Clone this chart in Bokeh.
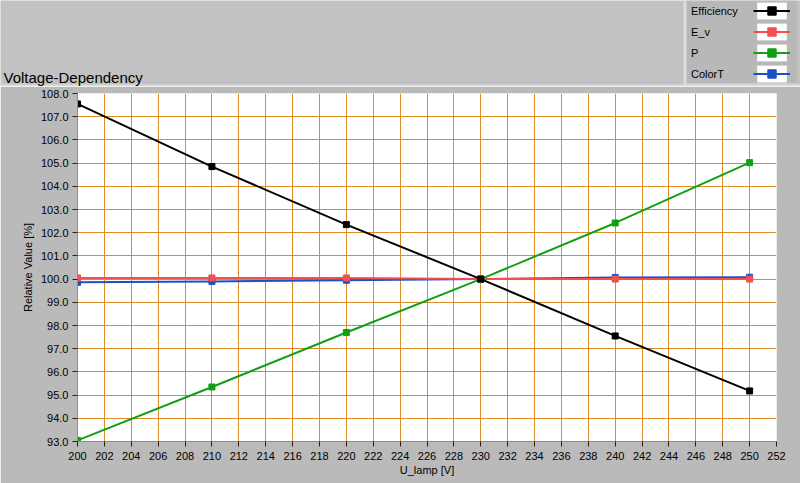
from bokeh.plotting import figure
from bokeh.layouts import column
from bokeh.models import (Range1d, FixedTicker, NumeralTickFormatter, Legend, LegendItem,
                          Label, BoxAnnotation)
from bokeh.embed import file_html
from bokeh.resources import INLINE

# ---- data ----
u_lamp = [200, 210, 220, 230, 240, 250]
efficiency = [107.55, 104.85, 102.35, 100.0, 97.55, 95.18]
e_v = [100.05, 100.05, 100.05, 100.0, 100.0, 100.0]
power = [93.05, 95.35, 97.70, 100.0, 102.42, 105.02]
color_t = [99.86, 99.90, 99.95, 100.0, 100.07, 100.08]

series_names = ["Efficiency", "E_v", "P", "ColorT"]
series_values = [efficiency, e_v, power, color_t]
series_colors = ["#000000", "#f25050", "#12a012", "#1c50c8"]
draw_order = [3, 1, 2, 0]

x_ticks = list(range(200, 253, 2))
y_ticks = list(range(93, 109))
title_text = "Voltage-Dependency"
x_label = "U_lamp [V]"
y_label = "Relative Value [%]"

FONT = "Liberation Sans"
PANEL = "#bababa"
TOP = "#c2c2c2"
LIGHT = "#dcdcdc"
GRID = "#dc8c28"

W, H = 800, 483
TOP_H = 86            # height of the header strip (title + legend)
FRAME_TOP, FRAME_BOTTOM = 93, 441
FRAME_LEFT, FRAME_RIGHT = 77, 776
LEG_LEFT, LEG_RIGHT, LEG_H = 686, 797, 84

# ---------------- header strip: title + legend ----------------
head = figure(width=W, height=TOP_H, output_backend="svg", toolbar_location=None,
              x_range=Range1d(0, W), y_range=Range1d(TOP_H, 0),
              x_axis_type=None, y_axis_type=None,
              min_border=0, min_border_left=0, min_border_right=0,
              min_border_top=0, min_border_bottom=0)
head.frame_align = False
head.background_fill_color = TOP
head.border_fill_color = TOP
head.outline_line_color = None
head.grid.visible = False

def header_box(x0, x1, y0, y1, color):
    head.add_layout(BoxAnnotation(left=x0, right=x1, top=y0, bottom=y1,
                                  fill_color=color, fill_alpha=1.0, line_color=None,
                                  level="underlay"))

header_box(0, W, TOP_H - 2, TOP_H, LIGHT)                 # bevel under the header
header_box(LEG_LEFT - 3, LEG_RIGHT, 0, LEG_H, LIGHT)       # legend panel bevel
header_box(LEG_LEFT, LEG_RIGHT, 0, LEG_H - 1, "#b8b8b8")   # legend panel

head.add_layout(Label(x=3, y=77, text=title_text, text_font=FONT, text_font_size="15px",
                      text_color="#000000", text_baseline="alphabetic"))

# legend proxies (same data, lying outside the header's visible ranges)
icon_bg = head.rect(x=u_lamp[:1], y=efficiency[:1], width=0, height=0,
                    fill_color="white", line_color=None)
proxy_lines = [head.line(u_lamp, series_values[i], line_color=series_colors[i], line_width=2)
               for i in range(4)]
proxy_marks = [head.scatter(u_lamp, series_values[i], marker="square", size=6,
                            fill_color=series_colors[i], line_color=series_colors[i])
               for i in range(4)]

common = dict(orientation="vertical", label_text_font=FONT, label_text_font_size="11px",
              label_text_color="#000000", label_height=21, glyph_height=21,
              spacing=0, padding=0, margin=0,
              background_fill_alpha=0.0, border_line_color=None)

# names on the left of the legend panel
name_legend = Legend(items=[LegendItem(label=series_names[i],
                                       renderers=[proxy_lines[i], proxy_marks[i]])
                            for i in range(4)],
                     location=(LEG_LEFT, TOP_H - LEG_H), glyph_width=0, label_standoff=5,
                     **common)
# icons on the right of the legend panel
icon_legend = Legend(items=[LegendItem(label=" ",
                                       renderers=[icon_bg, proxy_lines[i], proxy_marks[i]])
                            for i in range(4)],
                     location=(753, TOP_H - LEG_H), glyph_width=37, label_standoff=0,
                     label_width=0, **common)
head.add_layout(name_legend, "center")
head.add_layout(icon_legend, "center")

# ---------------- main chart ----------------
p = figure(width=W, height=H - TOP_H, output_backend="svg", toolbar_location=None,
           x_range=Range1d(200, 252), y_range=Range1d(93, 108),
           min_border_left=FRAME_LEFT, min_border_right=W - FRAME_RIGHT,
           min_border_top=FRAME_TOP - TOP_H, min_border_bottom=H - FRAME_BOTTOM)
p.frame_align = False
p.background_fill_color = "white"
p.border_fill_color = PANEL
p.outline_line_color = None

for ax in (p.xaxis[0], p.yaxis[0]):
    ax.major_label_text_font = FONT
    ax.major_label_text_font_size = "11px"
    ax.major_label_text_color = "#000000"
    ax.axis_label_text_font = FONT
    ax.axis_label_text_font_size = "11px"
    ax.axis_label_text_font_style = "normal"
    ax.axis_label_text_color = "#000000"
    ax.major_tick_in = 0
    ax.minor_tick_line_color = None
    ax.major_tick_line_color = "#202020"
    ax.axis_line_color = "#8c8c8c"

p.xaxis.ticker = FixedTicker(ticks=x_ticks)
p.yaxis.ticker = FixedTicker(ticks=y_ticks)
p.yaxis.formatter = NumeralTickFormatter(format="0.0")
p.xaxis.major_tick_out = 5
p.xaxis.major_label_standoff = 5
p.xaxis.axis_label = x_label
p.xaxis.axis_label_standoff = 1
p.yaxis.major_tick_out = 5
p.yaxis.major_label_standoff = 4
p.yaxis.axis_label = y_label
p.yaxis.axis_label_standoff = 4

p.xgrid.ticker = FixedTicker(ticks=x_ticks)
p.ygrid.ticker = FixedTicker(ticks=y_ticks)
for g in (p.xgrid[0], p.ygrid[0]):
    g.grid_line_color = GRID
    g.grid_line_width = 1
    g.grid_line_alpha = 1.0

for i in draw_order:
    p.line(u_lamp, series_values[i], line_color=series_colors[i], line_width=2)
    p.scatter(u_lamp, series_values[i], marker="square", size=6,
              fill_color=series_colors[i], line_color=series_colors[i])

layout = column(head, p, spacing=0)
open("out.html", "w").write(file_html(layout, INLINE))
